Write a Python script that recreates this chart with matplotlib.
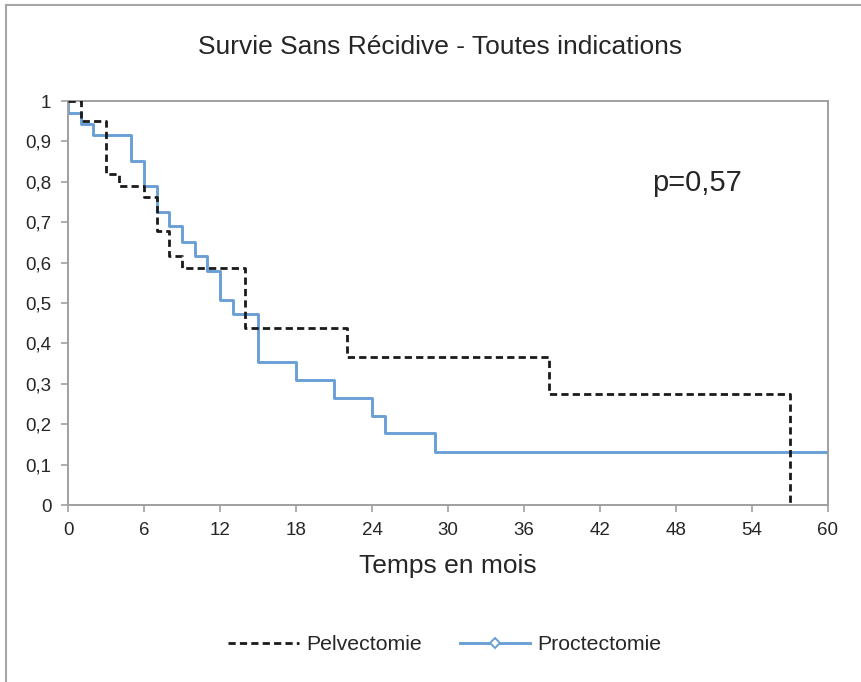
import matplotlib
matplotlib.use("Agg")
import matplotlib.pyplot as plt
from matplotlib.lines import Line2D

plt.rcParams['font.family'] = ['Liberation Sans', 'DejaVu Sans']

# Data (Kaplan-Meier steps)
pelv_t = [0, 1, 3, 4, 6, 7, 8, 9, 14, 22, 38, 57]
pelv_s = [1.0, 0.95, 0.82, 0.79, 0.763, 0.678, 0.617, 0.586, 0.439, 0.366, 0.274, 0.0]

proc_t = [0, 0, 1, 2, 5, 6, 7, 8, 9, 10, 11, 12, 13, 15, 18, 21, 24, 25, 29, 60]
proc_s = [1.0, 0.971, 0.943, 0.916, 0.852, 0.790, 0.725, 0.691, 0.652, 0.617, 0.580,
          0.507, 0.473, 0.353, 0.309, 0.264, 0.221, 0.177, 0.132, 0.132]

x_ticks = [0, 6, 12, 18, 24, 30, 36, 42, 48, 54, 60]
y_ticks = [0, 0.1, 0.2, 0.3, 0.4, 0.5, 0.6, 0.7, 0.8, 0.9, 1]
y_labels = ["0", "0,1", "0,2", "0,3", "0,4", "0,5", "0,6", "0,7", "0,8", "0,9", "1"]

title = "Survie Sans Récidive - Toutes indications"
xlabel = "Temps en mois"
pval = "p=0,57"
names = ["Pelvectomie", "Proctectomie"]

W, H = 861, 682
fig = plt.figure(figsize=(W / 100, H / 100), dpi=100)
ax = fig.add_axes([68 / W, 1 - 505 / H, (828 - 68) / W, (505 - 101) / H])

blue = "#6A9FD6"
text_col = "#262626"
grey = "#A0A0A0"
dash = (0, (2.6, 1.5))

ax.step(pelv_t, pelv_s, where="post", color="#1a1a1a", lw=2.0,
        linestyle=dash, zorder=3)
ax.step(proc_t, proc_s, where="post", color=blue, lw=2.1, zorder=2)

ax.set_xlim(0, 60)
ax.set_ylim(0, 1)
ax.set_xticks(x_ticks)
ax.set_yticks(y_ticks)
ax.set_yticklabels(y_labels)
ax.tick_params(axis="both", direction="out", length=5, width=1.2, color=grey,
               labelsize=13.5, labelcolor=text_col)
ax.tick_params(axis="y", pad=7)
ax.tick_params(axis="x", pad=7)
for s in ax.spines.values():
    s.set_color(grey)
    s.set_linewidth(1.4)

ax.set_xlabel(xlabel, fontsize=19, color=text_col, labelpad=11)
fig.text(440 / W, 1 - 47 / H, title, fontsize=19, color=text_col,
         ha="center", va="center")
ax.text((697 - 68) / (828 - 68), (505 - 183) / (505 - 101), pval,
        transform=ax.transAxes, fontsize=21, color=text_col, ha="center", va="center")

handles = [
    Line2D([], [], color="#1a1a1a", lw=2.0, linestyle=dash),
    Line2D([], [], color=blue, lw=2.1, marker="D", markersize=5,
           markerfacecolor="white", markeredgecolor=blue, markeredgewidth=1.4),
]
fig.legend(handles, names, loc="center", bbox_to_anchor=(445 / W, 1 - 645 / H),
           ncol=2, frameon=False, fontsize=15.3, handlelength=3.3, handletextpad=0.35,
           columnspacing=1.8, labelcolor=text_col)

# outer chart border (left and top visible)
fig.add_artist(Line2D([6 / W, 6 / W], [0, 1 - 5 / H], transform=fig.transFigure,
                      color="#A6A6A6", lw=1.5))
fig.add_artist(Line2D([6 / W, 1], [1 - 5 / H, 1 - 5 / H], transform=fig.transFigure,
                      color="#A6A6A6", lw=1.5))

fig.savefig("out.png", dpi=100, facecolor="white")
